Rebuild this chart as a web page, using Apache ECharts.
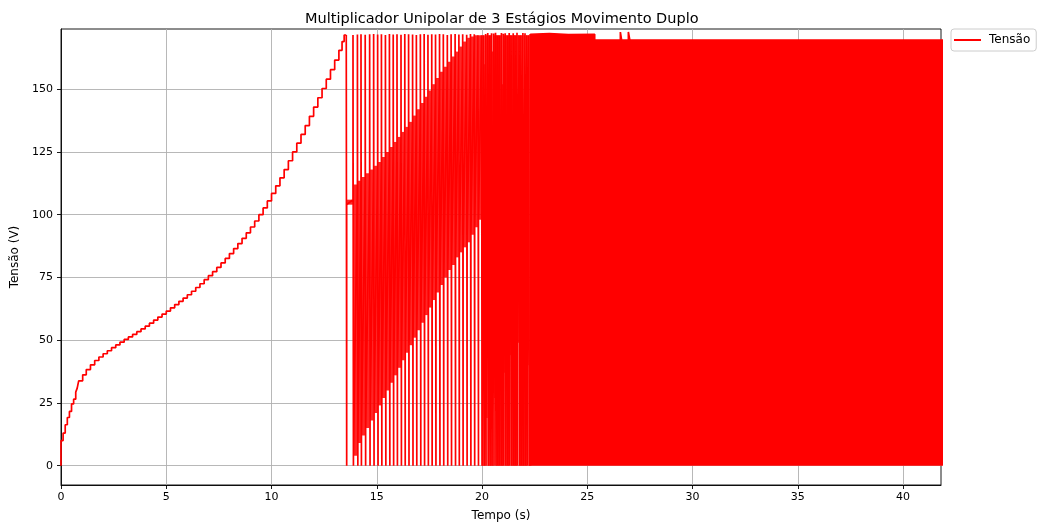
<!DOCTYPE html>
<html>
<head>
<meta charset="utf-8">
<script src="https://cdn.jsdelivr.net/npm/echarts@6/dist/echarts.min.js"></script>
<style>
html, body { margin: 0; padding: 0; background: #fff; }
#chart { width: 1042px; height: 528px; }
</style>
</head>
<body>
<div id="chart"></div>
<script>
// charging staircase (s, V)
var stepTimes = [0, 0, 0.1, 0.2, 0.3, 0.4, 0.5, 0.6, 0.7, 0.77, 0.84, 1.03, 1.2, 1.4, 1.6, 1.8, 2.0,
    2.2, 2.4, 2.6, 2.8, 3.0, 3.2, 3.4, 3.6, 3.8, 4.0, 4.2, 4.4, 4.6, 4.8, 5.0,
    5.2, 5.4, 5.6, 5.8, 6.0, 6.2, 6.4, 6.6, 6.8, 7.0, 7.2, 7.4, 7.6, 7.8, 8.0,
    8.2, 8.4, 8.6, 8.8, 9.0, 9.2, 9.4, 9.6, 9.8, 10.0, 10.2, 10.4, 10.6, 10.8, 11.0,
    11.2, 11.4, 11.6, 11.8, 12.0, 12.2, 12.4, 12.6, 12.8, 13.0, 13.2, 13.35, 13.45, 13.55];
var stepLevels = [0, 10, 13, 16.3, 19.2, 21.6, 24.6, 26.5, 29.3, 30.9, 33.8, 36.2, 38.3, 40.2, 41.9, 43.3, 44.6,
    45.8, 47, 48.1, 49.2, 50.3, 51.3, 52.3, 53.4, 54.5, 55.6, 56.8, 58, 59.2, 60.4, 61.6,
    62.9, 64.2, 65.5, 66.8, 68.1, 69.5, 71, 72.5, 74.1, 75.7, 77.3, 79, 80.8, 82.6, 84.5,
    86.5, 88.5, 90.6, 92.8, 95.1, 97.5, 100, 102.7, 105.5, 108.5, 111.5, 114.7, 118, 121.5, 125,
    128.5, 132, 135.5, 139.2, 142.9, 146.6, 150.3, 154, 157.8, 161.6, 165.5, 169, 171.6, 171.6];

// discharge pulses: time, level reached before it, peak, level right after it
var pulseTimes = [13.55, 13.87, 14.08, 14.25, 14.45, 14.66, 14.85, 15.04, 15.22, 15.41, 15.60, 15.78,
    15.96, 16.15, 16.33, 16.51, 16.70, 16.88, 17.07, 17.25, 17.43, 17.61, 17.79, 17.98,
    18.16, 18.35, 18.53, 18.72, 18.90, 19.08, 19.27, 19.45, 19.63, 19.81, 19.98,
    20.08, 20.17, 20.27, 20.36, 20.45, 20.55, 20.64, 20.73, 20.82, 20.92, 21.01, 21.10,
    21.20, 21.29, 21.38, 21.48, 21.57, 21.66, 21.76, 21.85, 21.94, 22.04, 22.13, 22.22];
var rampTops = [171.6, 106, 112, 113.5, 115, 116.5, 118, 119.5, 121, 123, 125, 127,
    129, 131, 133, 135, 137, 139.5, 142, 144.5, 147, 149.5, 152, 154.5,
    157, 159, 161, 163, 165, 167, 169, 170.5, 171, 171.5, 171.5,
    171.5, 160, 171.5, 171.5, 171.5, 165, 171.5, 171.5, 171.5, 171.5, 152, 171.5,
    171.5, 171.5, 171.5, 171.5, 171.5, 171.5, 171.5, 171.5, 171.5, 171.5, 171.5, 171.5];
var pulsePeaks = [171.6, 171.6, 171.8, 171.9, 171.7, 171.9, 172, 171.8, 171.9, 171.6, 172, 171.8,
    171.9, 171.7, 172, 171.9, 171.8, 171.6, 171.9, 172, 171.7, 171.9, 171.8, 172,
    171.9, 171.6, 171.9, 172, 171.8, 171.9, 171.7, 172, 171.9, 171.8, 172,
    172.2, 172, 172.4, 172.1, 172.3, 172.2, 172.5, 172, 172.2, 172.4, 172.1, 172.3,
    172.2, 172.4, 172, 172.3, 172.2, 172.5, 172.1, 172.2, 172.4, 172.3, 172.1, 172.2];
var rampStarts = [104, 4, 9, 12, 15, 18, 21, 24, 27, 30, 33, 36,
    39, 42, 45, 48, 51, 54, 57, 60, 63, 66, 69, 72,
    75, 78, 80, 83, 85, 87, 89, 92, 95, 98, 0,
    0, 19, 0, 0, 0, 27, 0, 0, 0, 0, 37, 0,
    0, 44, 0, 0, 0, 49, 0, 0, 0, 0, 40, 0];

// fully packed oscillation: upper envelope
var denseTimes = [22.3, 22.3, 23.2, 24.1, 25.35, 25.35, 26.57, 26.57, 26.63, 26.63, 26.95, 26.95, 27.02, 27.02, 42.5];
var denseTops = [0, 171.9, 172.2, 171.8, 171.9, 169.6, 169.6, 172.8, 172.8, 169.6, 169.6, 172.8, 172.8, 169.6, 169.6];

var xTicks = [0, 5, 10, 15, 20, 25, 30, 35, 40];
var yTicks = [0, 25, 50, 75, 100, 125, 150];

var red = '#ff0000';
var font = 'DejaVu Sans';
var axisText = { fontFamily: font, fontSize: 12, color: '#000' };

var stairData = stepTimes.map(function (t, i) { return [t, stepLevels[i]]; });
var pulseData = [];
var gapData = [];
for (var i = 0; i < pulseTimes.length; i++) {
    var t = pulseTimes[i];
    pulseData.push([t, rampTops[i]], [t, pulsePeaks[i]], [t + 0.02, 0], [t + 0.02, rampStarts[i]]);
    var next = i + 1 < pulseTimes.length ? [pulseTimes[i + 1], rampTops[i + 1]] : [denseTimes[0], denseTops[1]];
    gapData.push([t + 0.02, next[0], rampStarts[i], next[1]]);
}
var denseData = denseTimes.map(function (t, i) { return [t, denseTops[i]]; });

function lineSeries(data, extra) {
    var s = {
        name: 'Tensão',
        type: 'line',
        data: data,
        showSymbol: false,
        symbol: 'none',
        clip: true,
        lineStyle: { color: red, width: 1.7 },
        itemStyle: { color: red }
    };
    for (var k in extra) s[k] = extra[k];
    return s;
}

var chart = echarts.init(document.getElementById('chart'));
chart.setOption({
    animation: false,
    color: [red],
    textStyle: { fontFamily: font },
    title: {
        text: 'Multiplicador Unipolar de 3 Estágios Movimento Duplo',
        left: 300,
        top: 7,
        textStyle: { fontFamily: font, fontSize: 14.5, fontWeight: 'normal', color: '#000' }
    },
    legend: {
        data: ['Tensão'],
        left: 951,
        top: 29,
        padding: [5, 6, 5, 3],
        icon: 'rect',
        itemWidth: 27,
        itemHeight: 2,
        borderColor: '#cccccc',
        borderWidth: 1,
        borderRadius: 3,
        backgroundColor: '#fff',
        textStyle: { fontFamily: font, fontSize: 12, color: '#000', padding: [0, 0, 0, 3] }
    },
    grid: {
        left: 61, right: 101, top: 29, bottom: 43,
        show: true, borderColor: '#000', borderWidth: 0.9
    },
    xAxis: {
        type: 'value',
        min: 0, max: 41.8,
        name: 'Tempo (s)',
        nameLocation: 'middle',
        nameGap: 25,
        nameTextStyle: axisText,
        axisLine: { onZero: false, lineStyle: { color: '#000', width: 0.9 } },
        axisTick: { show: true, length: 4, customValues: xTicks, lineStyle: { color: '#000', width: 0.9 } },
        axisLabel: { customValues: xTicks, margin: 7, fontFamily: font, fontSize: 11, color: '#000' },
        splitLine: { show: true, lineStyle: { color: '#b0b0b0', width: 0.9 } }
    },
    yAxis: {
        type: 'value',
        min: -7.7, max: 174,
        name: 'Tensão (V)',
        nameLocation: 'middle',
        nameGap: 36,
        nameTextStyle: axisText,
        axisLine: { show: true, onZero: false, lineStyle: { color: '#000', width: 0.9 } },
        axisTick: { show: true, length: 4, customValues: yTicks, lineStyle: { color: '#000', width: 0.9 } },
        axisLabel: { customValues: yTicks, margin: 8, fontFamily: font, fontSize: 11, color: '#000' },
        splitLine: { show: true, lineStyle: { color: '#b0b0b0', width: 0.9 } }
    },
    series: [
        {
            name: 'Tensão',
            type: 'custom',
            data: gapData,
            encode: { x: [0, 1], y: [2, 3] },
            clip: true,
            renderItem: function (params, api) {
                var a = api.coord([api.value(0), api.value(2)]);
                var b = api.coord([api.value(1), api.value(3)]);
                return {
                    type: 'rect',
                    shape: { x: a[0], y: b[1], width: b[0] - a[0], height: a[1] - b[1] },
                    style: { fill: red, opacity: 0.85 }
                };
            }
        },
        lineSeries(stairData, { step: 'end' }),
        lineSeries(pulseData, {}),
        lineSeries(denseData, { areaStyle: { color: red, opacity: 1, origin: 0 } })
    ]
});
</script>
</body>
</html>
